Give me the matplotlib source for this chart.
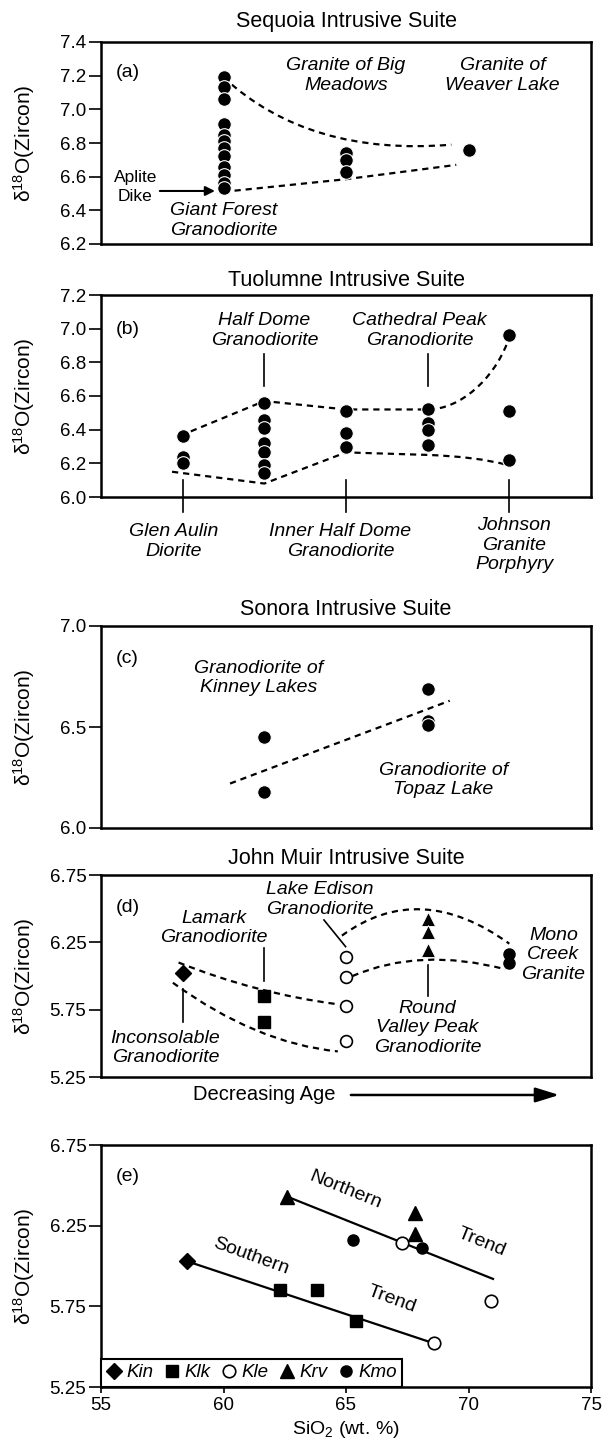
import matplotlib
matplotlib.use("Agg")
import matplotlib.pyplot as plt
from matplotlib.path import Path
from matplotlib.patches import PathPatch
from matplotlib.lines import Line2D

plt.rcParams['font.family'] = ['Liberation Sans', 'DejaVu Sans']
plt.rcParams['mathtext.fontset'] = 'custom'
plt.rcParams['mathtext.rm'] = 'Liberation Sans'
plt.rcParams['mathtext.it'] = 'Liberation Sans:italic'

# --- (a) Sequoia Intrusive Suite: d18O of zircon per unit ---
seq_giant_forest = [7.19, 7.13, 7.06, 6.91, 6.85, 6.81, 6.77, 6.72, 6.66, 6.61, 6.56, 6.53]
seq_big_meadows = [6.74, 6.70, 6.63]
seq_weaver_lake = [6.76]

# --- (b) Tuolumne Intrusive Suite ---
tuo_glen_aulin = [6.36, 6.24, 6.20]
tuo_half_dome = [6.56, 6.46, 6.41, 6.32, 6.27, 6.19, 6.14]
tuo_inner_half_dome = [6.51, 6.38, 6.30]
tuo_cathedral_peak = [6.52, 6.44, 6.40, 6.31]
tuo_johnson = [6.96, 6.51, 6.22]

# --- (c) Sonora Intrusive Suite ---
son_kinney_lakes = [6.45, 6.18]
son_topaz_lake = [6.69, 6.53, 6.51]

# --- (d) John Muir Intrusive Suite ---
jm_inconsolable = [6.02]
jm_lamark = [5.85, 5.66]
jm_lake_edison = [6.14, 5.99, 5.78, 5.52]
jm_round_valley = [6.42, 6.33, 6.19]
jm_mono_creek = [6.16, 6.10]

# --- (e) d18O(Zircon) vs SiO2 ---
kin_sio2, kin_d18o = [58.5], [6.03]
klk_sio2, klk_d18o = [62.3, 63.8, 65.4], [5.85, 5.85, 5.66]
kle_sio2, kle_d18o = [67.3, 68.6, 70.9], [6.14, 5.52, 5.78]
krv_sio2, krv_d18o = [62.6, 67.8, 67.8], [6.43, 6.33, 6.20]
kmo_sio2, kmo_d18o = [65.3, 68.1], [6.16, 6.11]
north_trend_sio2, north_trend_d18o = [62.6, 71.0], [6.43, 5.92]
south_trend_sio2, south_trend_d18o = [58.5, 68.6], [6.03, 5.52]

# hand-drawn envelopes (vertices + path codes)
env_a_upper = ([(1.0, 7.19), (1.7, 6.72), (2.86, 6.79)], 'MQQ')
env_a_lower = ([(1.0, 6.51), (2.0, 6.585), (2.9, 6.67)], 'MLL')
env_b_upper = ([(1.1, 6.39), (2.0, 6.57), (3.0, 6.52), (4.0, 6.52),
                (4.4, 6.52), (4.8, 6.70), (4.97, 6.91)], 'MLLLCCC')
env_b_lower = ([(0.87, 6.15), (2.0, 6.08), (3.0, 6.265), (4.0, 6.25),
                (4.6, 6.24), (4.98, 6.19)], 'MLLLQQ')
env_c = ([(1.58, 6.22), (4.27, 6.63)], 'ML')
env_d = [
    ([(0.95, 6.10), (1.9, 5.87), (2.9, 5.79)], 'MQQ'),
    ([(0.88, 5.95), (1.9, 5.50), (2.9, 5.44)], 'MQQ'),
    ([(2.95, 6.30), (3.9, 6.72), (5.0, 6.24)], 'MQQ'),
    ([(3.08, 6.00), (3.905, 6.215), (4.95, 6.05)], 'MQQ'),
]

CODES = {'M': Path.MOVETO, 'L': Path.LINETO, 'Q': Path.CURVE3, 'C': Path.CURVE4}


def dashed(ax, env):
    verts, codes = env
    path = Path(verts, [CODES[c] for c in codes])
    ax.add_patch(PathPatch(path, fill=False, lw=1.6, ec='black',
                           ls=(0, (2.8, 2.2)), capstyle='butt', zorder=2))


def dots(ax, x, ys):
    ax.plot([x] * len(ys), ys, ls='none', marker='o', ms=9.8, mfc='black',
            mec='white', mew=0.8, zorder=3)


def tick(ax, x, y0, y1):
    ax.plot([x, x], [y0, y1], color='black', lw=1.2, clip_on=False, zorder=2)


def label(ax, x, y, s, va='center', **kw):
    ax.text(x, y, s, ha='center', va=va, fontsize=14, style='italic',
            linespacing=1.2, **kw)


fig = plt.figure(figsize=(6.04, 14.5), dpi=100)
L, W = 101 / 604, 490 / 604


def new_axes(top_px, bot_px, ylim, yticks, fmt):
    ax = fig.add_axes([L, 1 - bot_px / 1450, W, (bot_px - top_px) / 1450])
    ax.set_ylim(*ylim)
    ax.set_yticks(yticks)
    ax.set_yticklabels([fmt.format(t) for t in yticks])
    for sp in ax.spines.values():
        sp.set_linewidth(1.8)
    ax.tick_params(axis='y', direction='out', length=9, width=1.2,
                   labelsize=13.5, pad=1.5)
    ax.set_ylabel(r'δ$^{\mathregular{18}}$O(Zircon)', fontsize=15)
    ax.yaxis.set_label_coords(-0.13, 0.5)
    return ax


def title(y_px, s):
    fig.text((101 + 591) / 2 / 604, 1 - y_px / 1450, s, ha='center',
             va='center', fontsize=15.5)


# (a)
title(22, 'Sequoia Intrusive Suite')
ax = new_axes(42, 244, (6.2, 7.4), [6.2, 6.4, 6.6, 6.8, 7.0, 7.2, 7.4], '{:.1f}')
ax.set_xlim(0, 4)
ax.set_xticks([])
dashed(ax, env_a_upper)
dashed(ax, env_a_lower)
dots(ax, 1, seq_giant_forest)
dots(ax, 2, seq_big_meadows)
dots(ax, 3, seq_weaver_lake)
ax.text(0.03, 0.85, '(a)', transform=ax.transAxes, fontsize=14, va='center')
label(ax, 1.0, 6.34, 'Giant Forest\nGranodiorite')
label(ax, 2.0, 7.20, 'Granite of Big\nMeadows')
label(ax, 3.28, 7.20, 'Granite of\nWeaver Lake')
ax.text(0.28, 6.54, 'Aplite\nDike', ha='center', va='center', fontsize=12.5,
        linespacing=1.35)
ax.annotate('', xy=(0.93, 6.515), xytext=(0.48, 6.515),
            arrowprops=dict(arrowstyle='-|>', lw=1.5, color='black',
                            mutation_scale=14, shrinkA=0, shrinkB=0))

# (b)
title(280, 'Tuolumne Intrusive Suite')
ax = new_axes(295, 497, (6.0, 7.2), [6.0, 6.2, 6.4, 6.6, 6.8, 7.0, 7.2], '{:.1f}')
ax.set_xlim(0, 6)
ax.set_xticks([])
dashed(ax, env_b_upper)
dashed(ax, env_b_lower)
for x, ys in zip([1, 2, 3, 4, 5], [tuo_glen_aulin, tuo_half_dome, tuo_inner_half_dome,
                                   tuo_cathedral_peak, tuo_johnson]):
    dots(ax, x, ys)
ax.text(0.03, 0.83, '(b)', transform=ax.transAxes, fontsize=14, va='center')
tick(ax, 2, 6.66, 6.85)
tick(ax, 4, 6.66, 6.85)
for x in [1, 3, 5]:
    tick(ax, x, 6.10, 5.91)
label(ax, 2.0, 6.99, 'Half Dome\nGranodiorite')
label(ax, 3.90, 6.99, 'Cathedral Peak\nGranodiorite')
label(ax, 0.89, 5.845, 'Glen Aulin\nDiorite', va='top')
label(ax, 2.93, 5.845, 'Inner Half Dome\nGranodiorite', va='top')
label(ax, 5.06, 5.88, 'Johnson\nGranite\nPorphyry', va='top')

# (c)
title(610, 'Sonora Intrusive Suite')
ax = new_axes(626, 828, (6.0, 7.0), [6.0, 6.5, 7.0], '{:.1f}')
ax.set_xlim(0, 6)
ax.set_xticks([])
dashed(ax, env_c)
dots(ax, 2, son_kinney_lakes)
dots(ax, 4, son_topaz_lake)
ax.text(0.03, 0.84, '(c)', transform=ax.transAxes, fontsize=14, va='center')
label(ax, 1.93, 6.743, 'Granodiorite of\nKinney Lakes')
label(ax, 4.19, 6.238, 'Granodiorite of\nTopaz Lake')

# (d)
title(858, 'John Muir Intrusive Suite')
ax = new_axes(875, 1077, (5.25, 6.75), [5.25, 5.75, 6.25, 6.75], '{:.2f}')
ax.set_xlim(0, 6)
ax.set_xticks([])
for env in env_d:
    dashed(ax, env)
ax.plot([1] * len(jm_inconsolable), jm_inconsolable, ls='none', marker='D',
        ms=8, color='black', zorder=3)
ax.plot([2] * len(jm_lamark), jm_lamark, ls='none', marker='s', ms=8.5,
        color='black', zorder=3)
ax.plot([3] * len(jm_lake_edison), jm_lake_edison, ls='none', marker='o',
        ms=8.5, mfc='white', mec='black', mew=1.2, zorder=3)
ax.plot([4] * len(jm_round_valley), jm_round_valley, ls='none', marker='^',
        ms=9.5, color='black', mec='white', mew=0.6, zorder=3)
ax.plot([5] * len(jm_mono_creek), jm_mono_creek, ls='none', marker='o',
        ms=8, color='black', zorder=3)
ax.text(0.03, 0.84, '(d)', transform=ax.transAxes, fontsize=14, va='center')
tick(ax, 1, 5.90, 5.66)
tick(ax, 2, 6.21, 5.96)
tick(ax, 4, 6.08, 5.85)
ax.plot([2.73, 2.995], [6.416, 6.218], color='black', lw=1.2, zorder=2)
label(ax, 2.68, 6.57, 'Lake Edison\nGranodiorite')
label(ax, 1.38, 6.356, 'Lamark\nGranodiorite')
label(ax, 5.54, 6.156, 'Mono\nCreek\nGranite')
label(ax, 4.0, 5.614, 'Round\nValley Peak\nGranodiorite')
label(ax, 0.79, 5.465, 'Inconsolable\nGranodiorite')
ax.text(0.333, -0.089, 'Decreasing Age', transform=ax.transAxes, ha='center',
        va='center', fontsize=14.5)
ax.annotate('', xy=(0.935, -0.089), xytext=(0.51, -0.089),
            xycoords='axes fraction', textcoords='axes fraction',
            arrowprops=dict(arrowstyle='-|>,head_length=0.9,head_width=0.28',
                            lw=1.8, color='black', mutation_scale=16,
                            shrinkA=0, shrinkB=0))

# (e)
ax = new_axes(1145, 1387, (5.25, 6.75), [5.25, 5.75, 6.25, 6.75], '{:.2f}')
ax.set_xlim(55, 75)
ax.set_xticks([55, 60, 65, 70, 75])
ax.tick_params(axis='x', direction='out', length=4, width=1.2, labelsize=13.5, pad=3)
ax.set_xlabel(r'SiO$_{\mathregular{2}}$ (wt. %)', fontsize=14, labelpad=4)
ax.plot(north_trend_sio2, north_trend_d18o, color='black', lw=1.6, zorder=2)
ax.plot(south_trend_sio2, south_trend_d18o, color='black', lw=1.6, zorder=2)
ax.plot(kin_sio2, kin_d18o, ls='none', marker='D', ms=8, color='black', zorder=3)
ax.plot(klk_sio2, klk_d18o, ls='none', marker='s', ms=8.5, color='black', zorder=3)
ax.plot(kle_sio2, kle_d18o, ls='none', marker='o', ms=9, mfc='white',
        mec='black', mew=1.2, zorder=3)
ax.plot(krv_sio2, krv_d18o, ls='none', marker='^', ms=9.5, color='black', zorder=3)
ax.plot(kmo_sio2, kmo_d18o, ls='none', marker='o', ms=8, color='black', zorder=3)
ax.text(0.03, 0.87, '(e)', transform=ax.transAxes, fontsize=14, va='center')
ax.text(64.96, 6.47, 'Northern', rotation=-22, ha='center', va='center', fontsize=14)
ax.text(70.54, 6.15, 'Trend', rotation=-22, ha='center', va='center', fontsize=14)
ax.text(61.13, 6.06, 'Southern', rotation=-20, ha='center', va='center', fontsize=14)
ax.text(66.87, 5.79, 'Trend', rotation=-20, ha='center', va='center', fontsize=14)

handles = [
    Line2D([], [], ls='none', marker='D', ms=8, color='black', label='Kin'),
    Line2D([], [], ls='none', marker='s', ms=8.5, color='black', label='Klk'),
    Line2D([], [], ls='none', marker='o', ms=9, mfc='white', mec='black', mew=1.2, label='Kle'),
    Line2D([], [], ls='none', marker='^', ms=9.5, color='black', label='Krv'),
    Line2D([], [], ls='none', marker='o', ms=8, color='black', label='Kmo'),
]
leg = ax.legend(handles=handles, loc='lower left', ncol=5, borderaxespad=0,
                fancybox=False, handlelength=0.8, handletextpad=0.25,
                columnspacing=0.6, borderpad=0.3, framealpha=1,
                prop={'style': 'italic', 'size': 13.5})
leg.get_frame().set_edgecolor('black')
leg.get_frame().set_linewidth(1.5)

fig.savefig('out.png', dpi=100)
